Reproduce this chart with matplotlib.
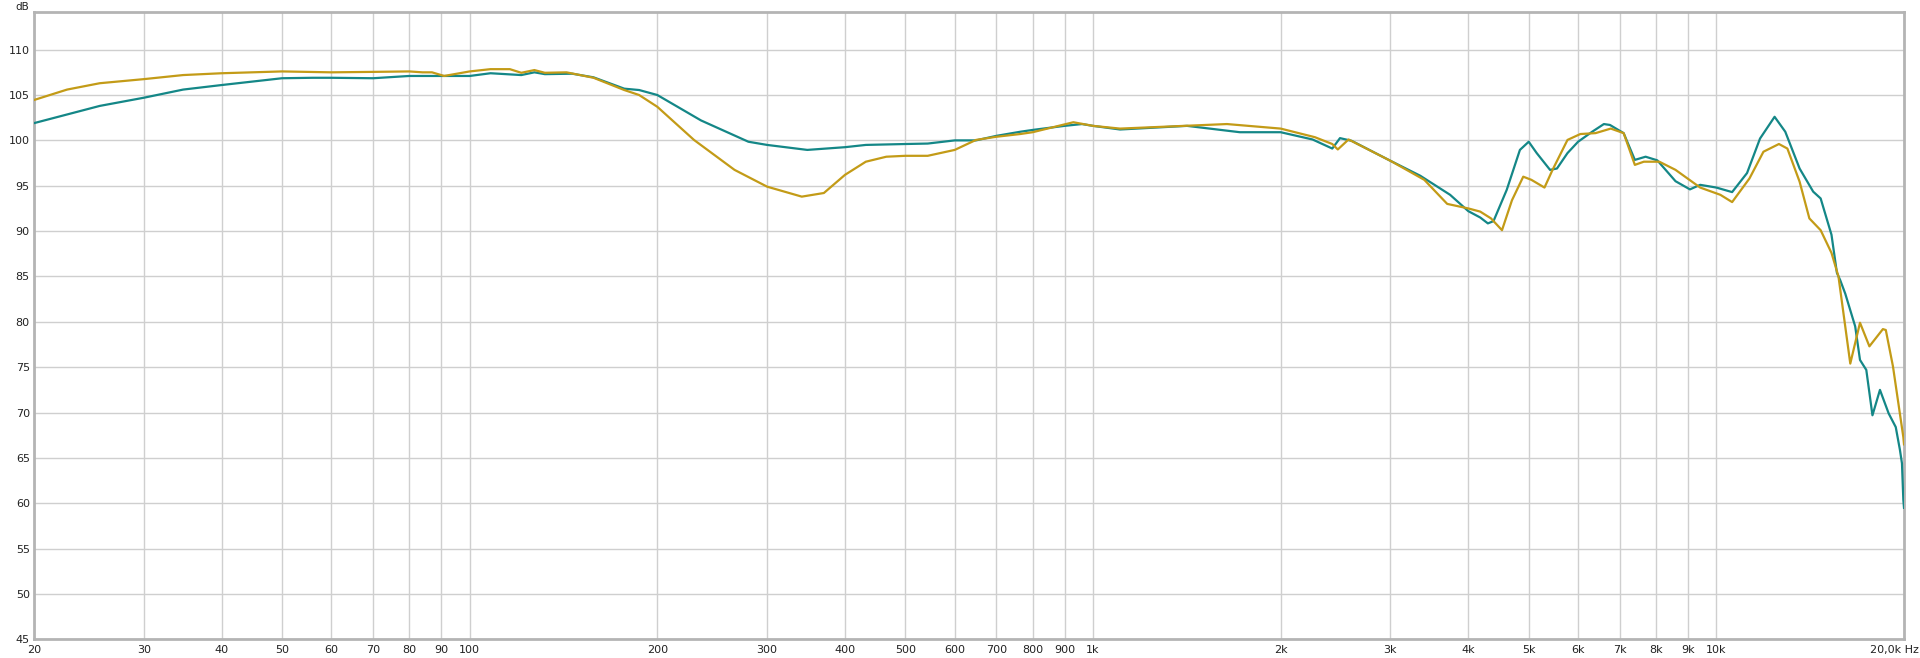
import numpy as np
import matplotlib
matplotlib.use('Agg')
import matplotlib.pyplot as plt
import matplotlib.transforms as mtransforms

# Frequency response, teal trace (Hz, dB)
teal_freq = [20, 25.5, 30, 34.7, 40, 50, 56, 60, 70, 80, 90, 100, 108, 121, 127, 132, 146,
             158, 177, 187, 200, 235, 280, 300, 348, 400, 432, 500, 543, 600, 649, 700, 764,
             800, 900, 960, 1000, 1105, 1415, 1720, 2000, 2250, 2420, 2490, 2600, 3000,
             3350, 3740, 4000, 4180, 4300, 4390, 4610, 4840, 5000, 5150, 5410, 5550, 5770,
             6000, 6320, 6600, 6750, 7100, 7400, 7700, 8040, 8600, 9070, 9420, 10000, 10600,
             11200, 11750, 12400, 12900, 13600, 14300, 14700, 15300, 15610, 15800, 16100,
             16700, 17000, 17400, 17800, 18300, 18900, 19400, 19700, 19850, 19950, 20000]
teal_db = [101.9, 103.8, 104.7, 105.6, 106.1, 106.85, 106.9, 106.9, 106.85, 107.1, 107.1,
           107.1, 107.4, 107.2, 107.5, 107.3, 107.35, 106.95, 105.7, 105.55, 105.0, 102.2,
           99.85, 99.5, 98.95, 99.25, 99.5, 99.6, 99.65, 100.0, 100.0, 100.5, 100.95, 101.15,
           101.6, 101.8, 101.6, 101.2, 101.6, 100.9, 100.9, 100.1, 99.1, 100.25, 99.95, 97.75,
           96.1, 94.0, 92.2, 91.5, 90.85, 91.1, 94.55, 98.95, 99.85, 98.6, 96.75, 96.9,
           98.6, 99.85, 100.95, 101.8, 101.7, 100.8, 97.85, 98.2, 97.8, 95.5, 94.6, 95.1,
           94.8, 94.3, 96.4, 100.2, 102.6, 100.95, 96.9, 94.35, 93.6, 89.6, 85.4, 84.6, 83.1,
           79.5, 75.8, 74.7, 69.7, 72.5, 69.9, 68.4, 65.9, 64.4, 60.4, 59.5]

# Frequency response, gold trace (Hz, dB)
gold_freq = [20, 22.6, 25.5, 30, 34.7, 40, 50, 60, 70, 80, 84, 87, 91, 100, 108, 116, 121,
             127, 132, 143, 158, 177, 187, 200, 229, 266, 300, 341, 370, 400, 432, 466, 500,
             543, 600, 649, 700, 764, 800, 930, 1000, 1105, 1640, 2000, 2270, 2420, 2470,
             2570, 3000, 3400, 3700, 4000, 4180, 4350, 4530, 4700, 4900, 5050, 5300, 5460,
             5770, 6050, 6400, 6770, 7100, 7400, 7650, 8100, 8600, 9420, 10150, 10600, 11300,
             11900, 12600, 13000, 13600, 14100, 14700, 15300, 15700, 16400, 17000, 17600,
             18500, 18700, 19200, 19950, 20000]
gold_db = [104.45, 105.6, 106.3, 106.75, 107.2, 107.4, 107.6, 107.5, 107.55, 107.6, 107.5,
           107.5, 107.1, 107.6, 107.85, 107.85, 107.45, 107.75, 107.45, 107.5, 106.9, 105.55,
           105.0, 103.7, 100.05, 96.75, 94.9, 93.8, 94.2, 96.2, 97.65, 98.2, 98.3, 98.3, 98.95,
           100.05, 100.4, 100.7, 100.9, 102.0, 101.6, 101.3, 101.8, 101.3, 100.35, 99.6, 99.0,
           100.1, 97.75, 95.65, 93.0, 92.5, 92.15, 91.4, 90.1, 93.4, 96.0, 95.65, 94.8, 96.75,
           100.05, 100.7, 100.8, 101.3, 100.8, 97.3, 97.65, 97.65, 96.75, 94.8, 94.0, 93.2,
           95.8, 98.75, 99.6, 99.1, 95.45, 91.4, 90.1, 87.6, 85.0, 75.4, 79.9, 77.3, 79.2,
           79.1, 75.1, 67.3, 66.5]

x_ticks = [20, 30, 40, 50, 60, 70, 80, 90, 100, 200, 300, 400, 500, 600, 700, 800, 900,
           1000, 2000, 3000, 4000, 5000, 6000, 7000, 8000, 9000, 10000, 20000]
x_labels = ['20', '30', '40', '50', '60', '70', '80', '90', '100', '200', '300', '400',
            '500', '600', '700', '800', '900', '1k', '2k', '3k', '4k', '5k', '6k', '7k',
            '8k', '9k', '10k', '20,0k Hz']
y_ticks = list(range(45, 111, 5))

W, H = 1920, 658
fig = plt.figure(figsize=(W / 100, H / 100), dpi=100)
ax = fig.add_axes([34 / W, (H - 639.4) / H, (1904 - 34) / W, (639.4 - 12) / H])

ax.plot(teal_freq, teal_db, color='#148787', lw=1.6, zorder=3)
ax.plot(gold_freq, gold_db, color='#c39b17', lw=1.6, zorder=4)

ax.set_xscale('log')
ax.set_xlim(20, 20000)
ax.set_ylim(45, 114.15)
ax.set_xticks(x_ticks)
ax.set_xticklabels(x_labels)
ax.xaxis.set_minor_locator(matplotlib.ticker.NullLocator())
ax.set_yticks(y_ticks)
ax.tick_params(length=0, labelsize=8, colors='#222222', pad=4)
ax.tick_params(axis='y', pad=3)

ax.grid(True, color='#cfcfcf', lw=1.0)
ax.set_axisbelow(True)
for s in ax.spines.values():
    s.set_color('#b4b4b4')
    s.set_linewidth(2)

# shift the last x label so it stays inside the figure
last = ax.get_xticklabels()[-1]
last.set_transform(last.get_transform() + mtransforms.ScaledTranslation(-10 / 100, 0, fig.dpi_scale_trans))

fig.text(22 / W, 1 - 7 / H, 'dB', fontsize=7.5, color='#222222', ha='center', va='center')

fig.savefig('out.png', dpi=100, facecolor='white')
